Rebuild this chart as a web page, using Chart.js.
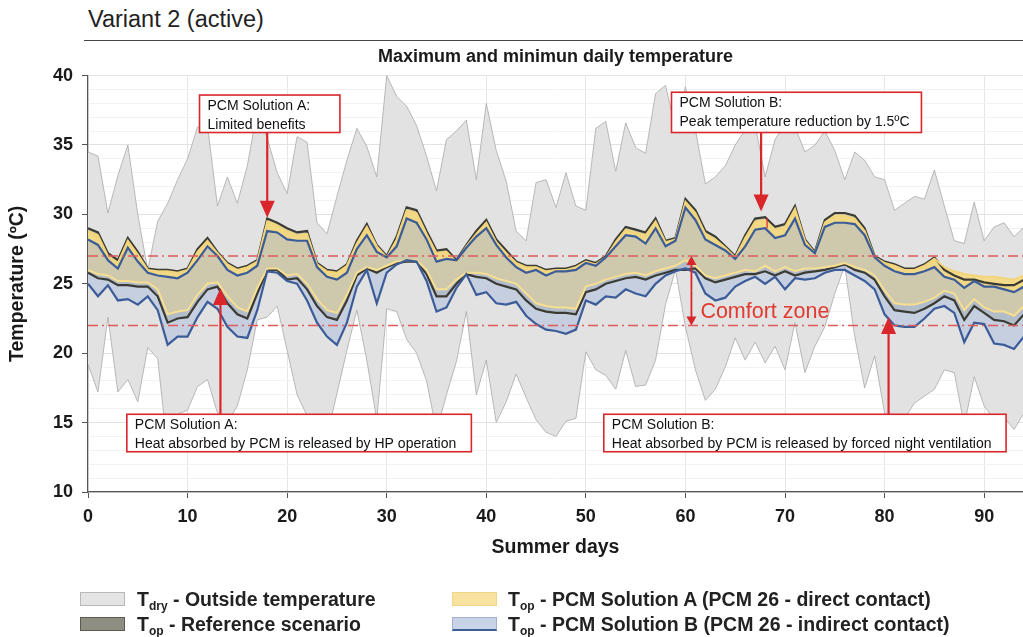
<!DOCTYPE html>
<html><head><meta charset="utf-8">
<script src="https://cdn.jsdelivr.net/npm/chart.js@4.4.1/dist/chart.umd.min.js"></script>
<style>
html,body{margin:0;padding:0;background:#fff;}
#wrap{position:relative;width:1023px;height:637px;overflow:hidden;background:#fff;font-family:'Liberation Sans',Arial,sans-serif;}
#c{position:absolute;left:0;top:0;}
.hdr{position:absolute;left:88px;top:5px;font-size:23.5px;color:#222;line-height:28px;white-space:nowrap;}
.rule{position:absolute;left:84px;top:40px;width:939px;height:0;border-top:1.5px solid #444;}
.sw{position:absolute;width:45px;height:14px;box-sizing:border-box;}
.lt{position:absolute;font-weight:bold;font-size:19.5px;line-height:22px;color:#222;white-space:nowrap;}
.lt sub{font-size:12px;vertical-align:-4px;line-height:0;}
</style></head><body>
<div id="wrap">
<div class="hdr">Variant 2 (active)</div>
<div class="rule"></div>
<canvas id="c" width="1023" height="637"></canvas>
<div class="sw" style="left:80px;top:592px;background:#e4e4e4;border:1px solid #b8b8b8"></div>
<div class="lt" style="left:137px;top:588px">T<sub>dry</sub> - Outside temperature</div>
<div class="sw" style="left:80px;top:617px;background:#8f8e80;border:1px solid #5a5a50"></div>
<div class="lt" style="left:137px;top:613px">T<sub>op</sub> - Reference scenario</div>
<div class="sw" style="left:452px;top:592px;background:#f7e2a2;border:1px solid #efd68a"></div>
<div class="lt" style="left:508px;top:588px">T<sub>op</sub> - PCM Solution A (PCM 26 - direct contact)</div>
<div class="sw" style="left:452px;top:617px;background:#c9d3e8;border:1px solid #9fb0d0;border-bottom:2px solid #3d5f99"></div>
<div class="lt" style="left:508px;top:613px">T<sub>op</sub> - PCM Solution B (PCM 26 - indirect contact)</div>
</div>
<script>
// ---- data ----
const days = Array.from({length: 95}, (_, i) => i);
const outsideMax = [34.5,34.2,30.1,32.8,35.0,30.0,26.0,29.5,30.8,32.5,
 34.0,36.3,36.4,30.6,32.7,30.8,33.5,37.5,35.5,33.0,
 31.5,35.6,35.2,29.4,28.6,31.3,33.9,36.2,34.9,32.7,
 40.0,38.5,37.8,36.4,34.2,31.7,35.4,36.0,36.8,32.5,
 38.0,34.6,32.4,28.8,28.1,32.3,32.5,30.5,33.0,30.6,
 30.3,36.2,36.7,33.1,36.6,34.8,34.4,38.7,39.3,36.2,
 39.2,36.1,32.2,32.7,33.5,35.0,36.1,36.5,32.7,35.4,
 36.5,36.3,34.5,35.0,36.0,34.6,32.5,34.5,33.9,32.7,
 32.5,30.3,30.8,31.3,31.1,33.2,30.6,28.1,27.9,30.9,
 28.1,29.1,29.4,28.4,29.1];
const outsideMin = [19.2,17.2,22.6,17.2,18.1,16.5,20.4,19.6,13.0,15.6,
 15.9,17.6,18.1,15.7,15.0,16.2,18.8,22.4,22.6,23.4,
 20.2,17.0,15.5,14.7,14.0,17.1,20.2,23.1,19.5,15.2,
 23.2,23.0,21.0,20.0,18.0,14.4,17.0,19.4,23.0,17.0,
 19.5,15.0,16.5,18.5,16.8,15.2,14.3,14.0,15.1,15.3,
 20.1,18.8,18.4,17.4,20.2,17.6,17.7,19.5,23.5,26.0,
 21.9,18.8,16.6,17.4,19.0,21.1,19.5,20.8,19.3,20.5,
 18.8,22.2,18.6,20.5,21.9,24.3,26.3,21.2,17.5,19.8,
 15.7,14.2,15.3,16.4,16.9,17.4,18.8,18.6,14.8,18.3,
 16.2,15.2,15.4,14.5,15.7];
const refMax = [29.0,28.7,27.2,26.7,28.3,27.3,26.1,26.0,26.0,25.9,
 26.1,27.5,28.3,27.3,26.5,26.1,26.3,26.7,29.7,29.4,
 29.0,28.7,28.8,26.5,26.0,25.9,26.4,28.1,29.3,27.8,
 27.0,28.4,30.5,30.3,28.8,27.4,27.5,26.7,27.8,28.8,
 29.6,28.2,27.4,26.6,26.3,26.3,26.0,26.1,26.1,26.3,
 26.7,26.5,27.0,28.2,29.1,28.9,28.7,29.7,28.1,28.3,
 31.1,30.3,28.8,28.4,27.7,27.0,28.5,29.7,29.8,29.1,
 29.3,30.6,28.2,27.3,29.6,30.1,30.1,29.9,29.0,27.0,
 26.6,26.4,26.1,26.1,26.4,26.9,26.0,25.6,25.3,25.3,
 25.1,25.0,24.9,24.9,25.3];
const refMin = [25.8,25.4,25.3,24.9,24.9,24.8,24.8,24.1,22.2,22.5,
 22.6,23.7,24.6,24.8,23.6,22.8,22.5,24.3,26.0,26.0,
 25.3,25.4,24.6,23.4,22.6,22.4,23.8,25.6,26.1,25.8,
 26.2,26.5,26.6,26.6,25.7,24.1,24.1,25.0,25.7,25.5,
 25.4,25.0,24.8,24.6,23.8,23.2,23.0,22.9,22.9,22.8,
 24.4,24.6,25.0,25.2,25.4,25.5,25.3,25.6,25.8,26.0,
 26.0,26.1,25.4,25.1,25.3,25.5,25.7,25.7,25.9,25.6,
 25.9,25.6,25.8,25.9,26.0,26.2,26.4,26.0,25.8,25.3,
 24.1,23.1,23.0,22.9,23.2,23.6,24.1,23.8,22.4,23.4,
 22.9,22.4,22.3,22.0,22.8];
const pcmAMax = [28.8,28.5,27.0,26.5,28.1,27.1,26.0,25.9,25.9,25.8,
 26.0,27.3,28.1,27.2,26.4,26.0,26.2,26.6,29.5,29.2,
 28.8,28.5,28.6,26.4,25.9,25.8,26.3,27.9,29.1,27.7,
 26.9,28.2,30.3,30.1,28.6,27.2,27.3,26.6,27.7,28.6,
 29.4,28.0,27.2,26.5,26.2,26.2,25.9,26.0,26.0,26.2,
 26.6,26.4,26.9,28.0,28.9,28.7,28.5,29.5,28.0,28.2,
 30.9,30.1,28.6,28.2,27.6,26.9,28.3,29.5,29.6,28.9,
 29.1,30.4,28.1,27.2,29.4,29.9,29.9,29.7,28.8,26.9,
 26.5,26.3,26.0,26.0,26.3,26.8,26.2,25.9,25.7,25.6,
 25.5,25.5,25.4,25.3,25.6];
const pcmAMin = [26.0,25.7,25.6,25.2,25.2,25.1,25.1,24.6,22.8,23.0,
 23.1,24.2,25.0,25.1,24.1,23.3,23.0,24.7,26.1,26.1,
 25.6,25.7,25.0,23.9,23.1,22.9,24.2,25.8,26.2,26.0,
 26.3,26.6,26.7,26.7,26.0,24.6,24.6,25.3,25.8,25.8,
 25.7,25.4,25.2,25.0,24.3,23.6,23.4,23.3,23.3,23.2,
 24.8,25.0,25.3,25.5,25.7,25.8,25.6,25.9,26.1,26.3,
 26.7,26.3,25.6,25.4,25.6,25.8,26.0,25.9,26.3,25.9,
 26.2,25.9,26.1,26.1,26.2,26.3,26.5,26.2,26.0,25.6,
 24.5,23.6,23.5,23.5,23.7,24.0,24.5,24.3,23.1,23.9,
 23.3,23.0,23.0,22.7,23.4];
const pcmBMax = [28.2,27.8,26.7,26.1,27.6,26.6,25.8,25.6,25.5,25.4,
 25.8,26.7,27.7,27.0,26.0,25.6,25.8,26.3,28.8,28.7,
 28.2,28.1,28.1,26.2,25.5,25.3,25.8,27.5,28.5,27.3,
 26.9,27.7,29.7,29.4,28.2,26.6,26.8,26.7,27.6,28.4,
 29.0,27.8,26.9,26.2,25.8,26.0,25.6,25.9,25.9,26.0,
 26.5,26.3,26.9,27.7,28.5,28.4,27.9,29.0,27.7,28.1,
 30.5,29.6,28.2,27.8,27.4,26.8,27.7,28.9,29.0,28.3,
 28.5,29.7,27.8,27.2,29.1,29.4,29.4,29.3,28.5,26.9,
 26.3,25.9,25.7,25.7,25.9,26.2,25.5,25.3,24.7,25.2,
 24.8,24.8,24.6,24.4,24.8];
const pcmBMin = [25.0,24.1,24.9,23.8,23.9,23.5,24.1,23.1,20.6,21.2,
 21.2,22.6,23.7,23.2,21.9,21.2,21.1,23.1,25.9,25.8,
 25.2,25.0,23.8,22.2,21.2,20.6,22.2,24.8,26.0,23.6,
 25.8,26.4,26.7,26.6,25.2,23.0,23.3,24.7,25.7,24.2,
 24.4,23.6,23.5,23.7,22.7,22.1,21.7,21.6,21.4,21.7,
 23.8,23.5,24.1,24.0,24.6,24.3,24.1,25.0,25.6,25.9,
 26.1,25.8,24.3,23.8,24.0,24.8,25.2,25.5,25.0,25.5,
 24.6,25.4,25.3,25.4,25.8,26.0,26.0,25.6,25.2,24.6,
 22.8,22.0,21.9,21.9,22.5,23.2,23.4,22.9,20.8,22.2,
 22.1,20.7,20.6,20.3,21.2];
const comfortLow = 22, comfortHigh = 27;
const xTickStep = 10, yTickStep = 5;

// ---- annotation layout (data units) ----
const notes = [
  {x0: 11.2, x1: 25.3, yTop: 38.6, yBot: 35.9, ax: 18.0, tip: 29.75, lines: ['PCM Solution A:', 'Limited benefits']},
  {x0: 58.6, x1: 83.7, yTop: 38.8, yBot: 35.9, ax: 67.6, tip: 30.2, lines: ['PCM Solution B:', 'Peak temperature reduction by 1.5\u00baC']},
  {x0: 3.9, x1: 38.5, yTop: 15.6, yBot: 12.9, ax: 13.3, tip: 24.7, lines: ['PCM Solution A:', 'Heat absorbed by PCM is released by HP operation']},
  {x0: 51.8, x1: 92.2, yTop: 15.6, yBot: 12.9, ax: 80.4, tip: 22.6, lines: ['PCM Solution B:', 'Heat absorbed by PCM is released by forced night ventilation']}
];
const comfortNote = {x: 60.6, textX: 61.5, textY: 22.55, text: 'Comfort zone'};
const peakMark = {x: 68.2, y0: 29.75, y1: 29.0};

const FONT = "'Liberation Sans', Arial, sans-serif";
const RED = '#d9262b';
const mk = arr => days.map((d, i) => ({x: d, y: arr[i]}));

function arrow(ctx, x, y0, y1, w, l, lw) {
  const dir = y1 > y0 ? 1 : -1;
  ctx.lineWidth = lw;
  ctx.beginPath(); ctx.moveTo(x, y0); ctx.lineTo(x, y1 - dir * l * 0.8); ctx.stroke();
  ctx.beginPath(); ctx.moveTo(x, y1); ctx.lineTo(x - w / 2, y1 - dir * l); ctx.lineTo(x + w / 2, y1 - dir * l); ctx.closePath(); ctx.fill();
}

const annot = {
  id: 'annot',
  afterDatasetsDraw(chart) {
    const {ctx} = chart; const x = chart.scales.x, y = chart.scales.y;
    ctx.save();
    ctx.strokeStyle = RED; ctx.fillStyle = RED;
    const cx = x.getPixelForValue(comfortNote.x);
    const cTop = y.getPixelForValue(comfortHigh), cBot = y.getPixelForValue(comfortLow);
    const mid = (cTop + cBot) / 2;
    arrow(ctx, cx, mid, cTop, 10, 9, 1.8);
    arrow(ctx, cx, mid, cBot, 10, 9, 1.8);
    ctx.font = '21.5px ' + FONT; ctx.textBaseline = 'alphabetic'; ctx.textAlign = 'left';
    ctx.fillStyle = '#e23a30';
    ctx.fillText(comfortNote.text, x.getPixelForValue(comfortNote.textX), y.getPixelForValue(comfortNote.textY));
    ctx.fillStyle = RED;
    const px = x.getPixelForValue(peakMark.x);
    const p0 = y.getPixelForValue(peakMark.y0), p1 = y.getPixelForValue(peakMark.y1);
    ctx.lineWidth = 1.2;
    ctx.beginPath(); ctx.moveTo(px, p0); ctx.lineTo(px, p1); ctx.stroke();
    notes.forEach(b => {
      const L = x.getPixelForValue(b.x0), R = x.getPixelForValue(b.x1);
      const T = y.getPixelForValue(b.yTop), B = y.getPixelForValue(b.yBot);
      const ax = x.getPixelForValue(b.ax), tip = y.getPixelForValue(b.tip);
      const start = tip > B ? B : T;
      ctx.strokeStyle = RED; ctx.fillStyle = RED;
      arrow(ctx, ax, start, tip, 15, 17, 2.2);
      ctx.fillStyle = '#fff'; ctx.fillRect(L, T, R - L, B - T);
      ctx.lineWidth = 1.6; ctx.strokeRect(L, T, R - L, B - T);
      ctx.fillStyle = '#111'; ctx.font = '14px ' + FONT;
      b.lines.forEach((t, i) => ctx.fillText(t, L + 8, T + 15 + i * 19));
    });
    ctx.restore();
  }
};

const base = {pointRadius: 0, pointHoverRadius: 0, tension: 0};
new Chart(document.getElementById('c'), {
  type: 'line',
  data: {datasets: [
    {...base, label: 'Tdry min', data: mk(outsideMin), borderColor: '#a9a9a9', borderWidth: 0.8, fill: false, order: 40},
    {...base, label: 'Tdry - Outside temperature', data: mk(outsideMax), borderColor: '#a9a9a9', borderWidth: 0.8, fill: '-1', backgroundColor: '#e2e2e2', order: 39},
    {...base, label: 'Ref min', data: mk(refMin), borderColor: '#3b3b35', borderWidth: 2.2, fill: false, order: 30},
    {...base, label: 'Top - Reference scenario', data: mk(refMax), borderColor: '#3b3b35', borderWidth: 2.2, fill: '-1', backgroundColor: 'rgba(130,130,110,0.35)', order: 29},
    {...base, label: 'A min', data: mk(pcmAMin), borderColor: '#f8df90', borderWidth: 2, fill: false, order: 20},
    {...base, label: 'Top - PCM Solution A', data: mk(pcmAMax), borderColor: '#f2d47a', borderWidth: 2, fill: '-1', backgroundColor: 'rgba(246,218,128,0.9)', order: 19},
    {...base, label: 'B min', data: mk(pcmBMin), borderColor: '#3b5c98', borderWidth: 2.2, fill: false, order: 10},
    {...base, label: 'Top - PCM Solution B', data: mk(pcmBMax), borderColor: '#3b5c98', borderWidth: 2.2, fill: '-1', backgroundColor: 'rgba(165,185,222,0.45)', order: 9},
    {...base, label: 'Comfort high', data: [{x: 0, y: comfortHigh}, {x: 94, y: comfortHigh}], borderColor: '#e05a5a', borderWidth: 1.6, borderDash: [10, 4, 2, 4], fill: false, order: 1},
    {...base, label: 'Comfort low', data: [{x: 0, y: comfortLow}, {x: 94, y: comfortLow}], borderColor: '#e05a5a', borderWidth: 1.6, borderDash: [10, 4, 2, 4], fill: false, order: 1}
  ]},
  options: {
    responsive: false, maintainAspectRatio: false, devicePixelRatio: 1, animation: false,
    events: [],
    layout: {padding: {top: 46, left: 4, right: 0, bottom: 77}},
    plugins: {
      legend: {display: false}, tooltip: {enabled: false},
      filler: {drawTime: 'beforeDatasetsDraw'},
      title: {display: true, fullSize: false, text: 'Maximum and minimun daily temperature', color: '#1a1a1a',
              font: {family: FONT, size: 18, weight: 'bold'}, padding: {top: 0, bottom: 8}}
    },
    scales: {
      x: {type: 'linear', min: 0, max: 93.9,
        border: {display: true, color: '#555', width: 1.2},
        grid: {color: '#e6e6e6', tickLength: 6, tickColor: '#555'},
        ticks: {stepSize: xTickStep, includeBounds: false, autoSkip: false, maxRotation: 0, padding: 8, color: '#1a1a1a',
                font: {family: FONT, size: 18, weight: 'bold'}, callback: v => (v % xTickStep === 0 ? v : '')},
        title: {display: true, text: 'Summer days', color: '#1a1a1a', font: {family: FONT, size: 19.5, weight: 'bold'}, padding: {top: 2, bottom: 1}},
        afterFit: s => { s.height = 68; }
      },
      y: {min: 10, max: 40,
        border: {display: true, color: '#555', width: 1.2},
        grid: {color: c => (c.tick && c.tick.value % yTickStep === 0 ? '#e2e2e2' : '#f2f2f2'), tickLength: 6,
               tickColor: c => (c.tick && c.tick.value % yTickStep === 0 ? '#555' : 'rgba(0,0,0,0)')},
        ticks: {stepSize: 1, autoSkip: false, padding: 9, color: '#1a1a1a', font: {family: FONT, size: 18, weight: 'bold'},
                callback: v => (v % yTickStep === 0 ? v : '')},
        title: {display: true, text: 'Temperature (\u00baC)', color: '#1a1a1a', font: {family: FONT, size: 19.5, weight: 'bold'}, padding: {top: 2, bottom: 0}},
        afterFit: s => { s.width = 84; }
      }
    }
  },
  plugins: [annot]
});
</script>
</body></html>
